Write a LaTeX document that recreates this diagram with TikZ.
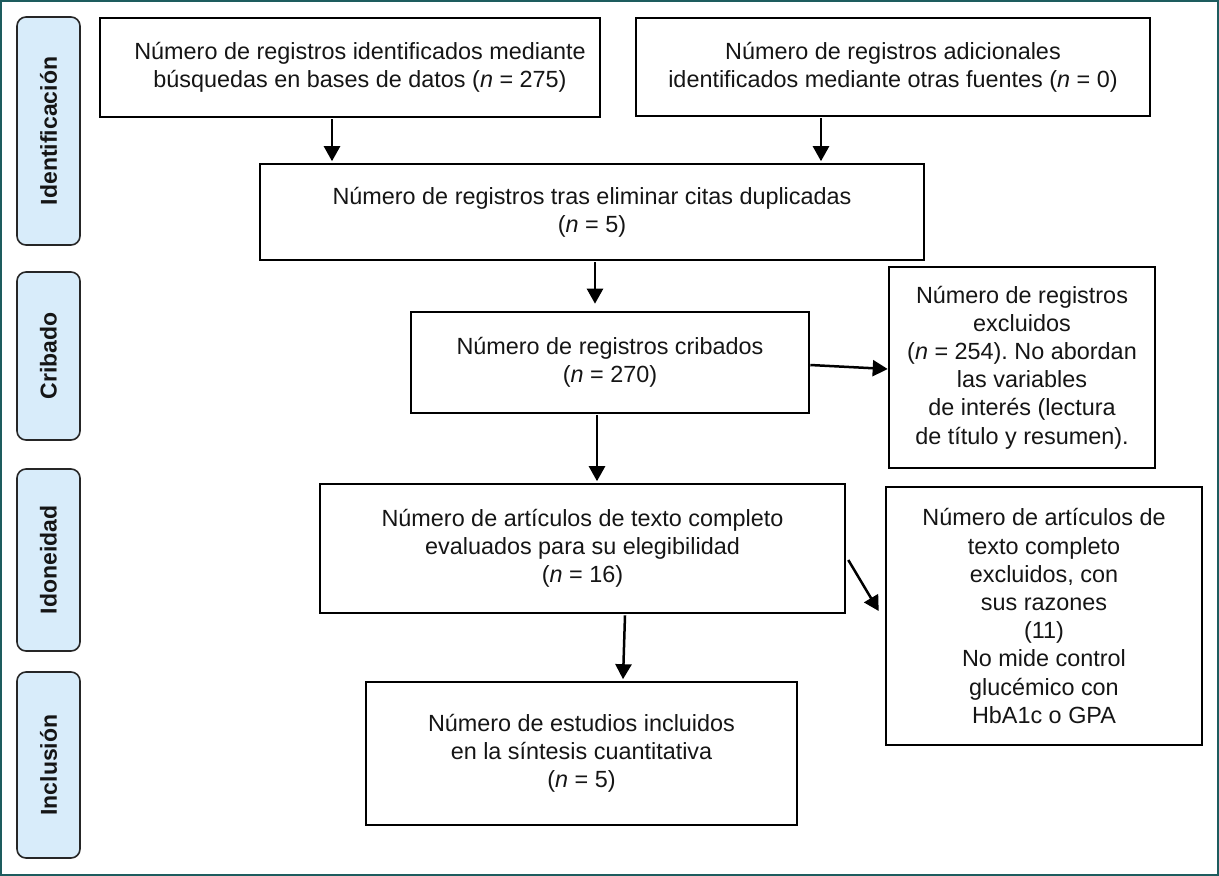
\documentclass[tikz,border=0pt]{standalone}
\usepackage{fontspec}
\setmainfont{Liberation Sans}
\usetikzlibrary{arrows.meta}
\frenchspacing
\definecolor{frame}{HTML}{1D5C5E}
\definecolor{phasefill}{HTML}{D8ECFA}
\definecolor{txt}{HTML}{151515}
\tikzset{
  flowbox/.style={draw=black, line width=2.6pt, inner sep=0pt, align=center, text=txt,
    font=\fontsize{23.4}{28.2}\selectfont},
  phasebox/.style={draw=black!85, fill=phasefill, line width=1.6pt, rounded corners=9pt,
    inner sep=0pt},
  phasetext/.style={rotate=90, text=txt, font=\fontsize{23}{28}\selectfont\bfseries},
  arr/.style={line width=2.5pt, -{Triangle[length=15pt,width=16pt]}}
}
\begin{document}
\begin{tikzpicture}[x=1pt,y=-1pt]
\useasboundingbox (0,0) rectangle (1219,876);
\draw[frame, line width=2pt] (1,1) rectangle (1218,875);
% phase labels
\node[phasebox, minimum width=63pt, minimum height=228pt] (p1) at (48.5,131) {};
\node[phasetext] (p1t) at (p1.center) {Identificación};
\node[phasebox, minimum width=63pt, minimum height=168pt] (p2) at (48.5,356) {};
\node[phasetext] (p2t) at (p2.center) {Cribado};
\node[phasebox, minimum width=63pt, minimum height=182pt] (p3) at (48.5,560) {};
\node[phasetext] (p3t) at (p3.center) {Idoneidad};
\node[phasebox, minimum width=63pt, minimum height=186pt] (p4) at (48.5,765) {};
\node[phasetext] (p4t) at (p4.center) {Inclusión};
% flow boxes
\node[flowbox, minimum width=500pt, minimum height=99pt] (A) at (350,67.5)
  {\hspace*{20pt}Número de registros identificados mediante\\\hspace*{20pt}búsquedas en bases de datos (\textit{n} = 275)};
\node[flowbox, minimum width=514pt, minimum height=98pt] (B) at (893,67)
  {Número de registros adicionales\\identificados mediante otras fuentes (\textit{n} = 0)};
\node[flowbox, minimum width=664pt, minimum height=96pt] (C) at (592,212)
  {Número de registros tras eliminar citas duplicadas\\(\textit{n} = 5)};
\node[flowbox, minimum width=398pt, minimum height=101pt] (D) at (610,362.5)
  {Número de registros cribados\\(\textit{n} = 270)};
\node[flowbox, minimum width=266pt, minimum height=201pt] (E) at (1022,367.5)
  {Número de registros\\excluidos\\(\textit{n} = 254). No abordan\\las variables\\de interés (lectura\\de título y resumen).};
\node[flowbox, minimum width=525pt, minimum height=129pt] (F) at (582.5,548.5)
  {Número de artículos de texto completo\\evaluados para su elegibilidad\\(\textit{n} = 16)};
\node[flowbox, minimum width=316pt, minimum height=258pt] (G) at (1044,616)
  {Número de artículos de\\texto completo\\excluidos, con\\sus razones\\(11)\\No mide control\\glucémico con\\HbA1c o GPA};
\node[flowbox, minimum width=431pt, minimum height=143pt] (H) at (581.5,753.5)
  {Número de estudios incluidos\\en la síntesis cuantitativa\\(\textit{n} = 5)};
% connectors
\draw[arr] ([xshift=-18pt,yshift=-1pt]A.south) -- ([xshift=-260pt,yshift=1.5pt]C.north);
\draw[arr] ([xshift=-72pt,yshift=-1pt]B.south) -- ([xshift=229pt,yshift=1.5pt]C.north);
\draw[arr] ([xshift=3pt,yshift=-1pt]C.south) -- ([xshift=-15pt,yshift=7pt]D.north);
\draw[arr] ([yshift=-2.5pt]D.east) -- ([yshift=-1.5pt]E.west);
\draw[arr] ([xshift=-13pt,yshift=-1pt]D.south) -- ([xshift=14.5pt,yshift=1.5pt]F.north);
\draw[arr] ([xshift=2pt,yshift=-11.5pt]F.east) -- ([xshift=-6pt,yshift=5pt]G.west);
\draw[arr] ([xshift=42.5pt,yshift=-1pt]F.south) -- ([xshift=41.5pt,yshift=1.5pt]H.north);
\end{tikzpicture}
\end{document}
